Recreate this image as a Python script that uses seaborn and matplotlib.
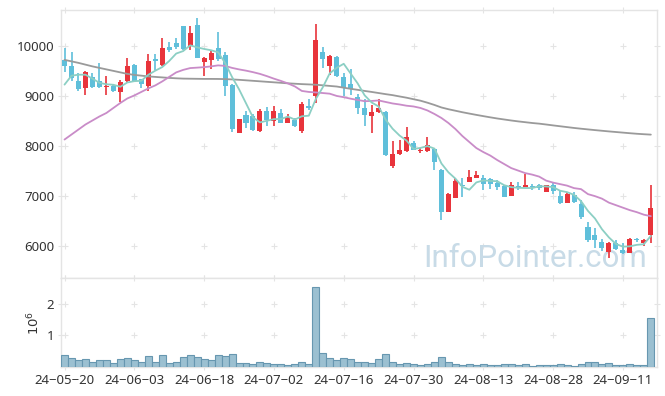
import numpy as np
import pandas as pd
import matplotlib
matplotlib.use("Agg")
import matplotlib.pyplot as plt
import seaborn as sns

# ---------------- data ----------------
tick_labels = ["24-05-20", "24-06-03", "24-06-18", "24-07-02", "24-07-16",
               "24-07-30", "24-08-13", "24-08-28", "24-09-11"]
tick_step = 10  # trading days between labelled dates

opens = [9720, 9590, 9290, 9150, 9370, 9290, 9175, 9200, 9070, 9290,
         9620, 9330, 9190, 9730, 9620, 9980, 10050, 10400, 9990, 10420,
         9680, 9720, 9960, 9820, 9220, 8270, 8620, 8590, 8300, 8700,
         8490, 8660, 8460, 8510, 8310, 8800, 8990, 9870, 9600, 9770,
         9380, 9240, 8980, 8750, 8590, 8680, 8680, 7600, 7840, 7900,
         8060, 7900, 7900, 7950, 7520, 6690, 6970, 7230, 7290, 7370,
         7370, 7350, 7270, 7200, 7010, 7210, 7190, 7210, 7220, 7090,
         7230, 7010, 6870, 7030, 6850, 6390, 6220, 6090, 5880, 6070,
         5930, 5870, 6150, 6060, 6220]
highs = [9950, 9870, 9450, 9500, 9460, 9660, 9400, 9230, 9320, 9750,
         9630, 9340, 9830, 9830, 10150, 10070, 10150, 10400, 10390, 10550,
         9770, 9920, 10270, 9870, 9230, 8530, 8690, 8630, 8740, 8780,
         8790, 8740, 8630, 8560, 8870, 8940, 10440, 9970, 9820, 9790,
         9460, 9540, 9040, 8930, 8810, 8940, 8690, 8100, 8130, 8380,
         8100, 7960, 8180, 7970, 7540, 7060, 7360, 7360, 7520, 7510,
         7420, 7370, 7330, 7220, 7290, 7290, 7440, 7250, 7250, 7230,
         7270, 7110, 7090, 7090, 6920, 6490, 6370, 6150, 6080, 6120,
         6070, 6170, 6170, 6140, 7220]
lows = [9470, 9300, 9100, 9020, 9150, 9150, 9020, 9080, 8880, 9250,
        9290, 9150, 9100, 9520, 9590, 9880, 9930, 9920, 9920, 9750,
        9390, 9530, 9700, 8990, 8290, 8270, 8360, 8310, 8290, 8410,
        8410, 8450, 8450, 8380, 8260, 8720, 8860, 9550, 9420, 9380,
        8990, 9020, 8630, 8410, 8260, 8660, 7810, 7560, 7830, 7890,
        7920, 7860, 7890, 7520, 6520, 6690, 6960, 6990, 7280, 7360,
        7120, 7150, 7130, 6980, 7000, 7120, 7180, 7130, 7120, 7080,
        7050, 6840, 6860, 6870, 6550, 6090, 5970, 5910, 5770, 5930,
        5850, 5860, 6090, 6000, 6070]
closes = [9590, 9350, 9140, 9480, 9170, 9170, 9205, 9090, 9280, 9600,
          9300, 9240, 9690, 9690, 9960, 9910, 9980, 9940, 10260, 9760,
          9750, 9850, 9740, 9200, 8350, 8530, 8450, 8330, 8700, 8510,
          8700, 8460, 8570, 8400, 8840, 8760, 10120, 9740, 9800, 9390,
          9160, 9140, 8760, 8610, 8680, 8760, 7830, 7850, 7930, 8175,
          7930, 7930, 8030, 7680, 6690, 7050, 7300, 7210, 7390, 7420,
          7250, 7250, 7180, 6990, 7230, 7180, 7230, 7180, 7160, 7220,
          7110, 6870, 7040, 6890, 6590, 6130, 6120, 5970, 6070, 5940,
          5860, 6150, 6120, 6130, 6770]
# closes of the four sessions before the window (needed for the 5-day average)
pre_closes = [8460, 9040, 9480, 9560]
volumes_m = [0.365, 0.29, 0.21, 0.23, 0.135, 0.20, 0.20, 0.105, 0.26, 0.29,
             0.20, 0.135, 0.355, 0.165, 0.385, 0.105, 0.165, 0.32, 0.385, 0.32,
             0.26, 0.20, 0.385, 0.355, 0.415, 0.105, 0.105, 0.073, 0.135, 0.105,
             0.073, 0.073, 0.042, 0.073, 0.165, 0.073, 2.54, 0.45, 0.29, 0.20,
             0.29, 0.26, 0.165, 0.135, 0.105, 0.26, 0.415, 0.135, 0.073, 0.105,
             0.073, 0.042, 0.073, 0.135, 0.32, 0.165, 0.073, 0.042, 0.073, 0.042,
             0.073, 0.042, 0.042, 0.073, 0.073, 0.042, 0.073, 0.02, 0.042, 0.042,
             0.042, 0.073, 0.042, 0.02, 0.073, 0.165, 0.165, 0.073, 0.105, 0.042,
             0.042, 0.073, 0.042, 0.042, 1.54]
ma20 = [8130, 8230, 8330, 8430, 8510, 8590, 8660, 8760, 8860, 8950,
        9010, 9080, 9150, 9210, 9290, 9380, 9470, 9520, 9556, 9565,
        9575, 9590, 9610, 9600, 9560, 9530, 9505, 9475, 9440, 9395,
        9345, 9300, 9250, 9190, 9100, 9080, 9070, 9058, 9045, 9000,
        8975, 8945, 8920, 8895, 8900, 8910, 8880, 8850, 8830, 8805,
        8790, 8760, 8710, 8640, 8560, 8460, 8340, 8200, 8080, 7960,
        7880, 7810, 7720, 7640, 7560, 7510, 7460, 7430, 7390, 7310,
        7270, 7240, 7210, 7160, 7140, 7040, 7000, 6950, 6870, 6820,
        6770, 6720, 6680, 6630, 6600]
ma120 = [9720, 9690, 9660, 9625, 9590, 9560, 9530, 9500, 9470, 9440,
         9420, 9405, 9390, 9380, 9370, 9360, 9352, 9346, 9344, 9342,
         9340, 9340, 9339, 9336, 9330, 9322, 9312, 9302, 9292, 9282,
         9272, 9262, 9252, 9244, 9236, 9230, 9224, 9212, 9200, 9188,
         9165, 9142, 9122, 9100, 9080, 9058, 9036, 9016, 8990, 8965,
         8935, 8905, 8865, 8820, 8770, 8735, 8705, 8675, 8648, 8622,
         8597, 8573, 8550, 8530, 8510, 8492, 8476, 8460, 8447, 8430,
         8412, 8395, 8378, 8361, 8346, 8332, 8318, 8305, 8292, 8280,
         8268, 8256, 8245, 8236, 8228]
price_ticks = [6000, 7000, 8000, 9000, 10000]
volume_ticks = [1, 2]

# ---------------- style ----------------
RED = "#e8343b"
BLUE = "#5fbfda"
C_MA5 = "#8ccfc4"
C_MA20 = "#c98cc8"
C_MA120 = "#9a9a9a"
VOL_FACE = "#9bc0d1"
VOL_EDGE = "#6797b0"
GRID = "#e4e4e4"
SPINE = "#e4e4e4"
TEXT = "#333333"

sns.set_theme(style="white")
plt.rcParams["font.family"] = ["Noto Sans", "DejaVu Sans"]
plt.rcParams["axes.unicode_minus"] = True

df = pd.DataFrame({"open": opens, "high": highs, "low": lows, "close": closes,
                   "volume": volumes_m, "ma20": ma20, "ma120": ma120})
df["i"] = np.arange(len(df))
all_close = pd.Series(pre_closes + closes, dtype=float)
df["ma5"] = all_close.rolling(5).mean().iloc[len(pre_closes):].to_numpy()

fig = plt.figure(figsize=(6.65, 3.96), dpi=100)
ax = fig.add_axes([0.0922, 0.2972, 0.8953, 0.6775])
axv = fig.add_axes([0.0922, 0.074, 0.8953, 0.2232], sharex=ax)

x = df["i"].to_numpy()
up = df["close"] >= df["open"]
colors = np.where(up, RED, BLUE)

# watermark
ax.text(0.9837, 0.044, "InfoPointer.com", transform=ax.transAxes, ha="right",
        va="baseline", fontsize=22.5, color="#c8dbe7", zorder=1,
        family=["Roboto", "DejaVu Sans"])

# candles
ax.vlines(x, df["low"], df["high"], colors=colors, lw=1.2, zorder=3)
body_lo = np.minimum(df["open"], df["close"])
body_h = np.maximum((df["close"] - df["open"]).abs(), 14)
ax.bar(x, body_h, bottom=body_lo, width=0.72, color=colors, linewidth=0, zorder=4)

# moving averages
sns.lineplot(data=df, x="i", y="ma120", ax=ax, color=C_MA120, lw=1.3, zorder=5)
sns.lineplot(data=df, x="i", y="ma20", ax=ax, color=C_MA20, lw=1.3, zorder=5)
sns.lineplot(data=df, x="i", y="ma5", ax=ax, color=C_MA5, lw=1.3, zorder=5)

# volume
axv.bar(x, df["volume"], width=1.0, color=VOL_FACE, edgecolor=VOL_EDGE, linewidth=0.8, zorder=3)

xticks = np.arange(0, len(tick_labels) * tick_step, tick_step)
ax.set_xlim(-0.46, 84.84)
ax.set_ylim(5360, 10715)
axv.set_ylim(0, 2.82)

for a, yt in ((ax, price_ticks), (axv, volume_ticks)):
    XX, YY = np.meshgrid(xticks, yt)
    a.plot(XX.ravel(), YY.ravel(), ls="none", marker="+", ms=4.5, mew=0.8,
           color=GRID, zorder=0)
    a.set_yticks(yt)
    a.set_xticks(xticks)
    a.set_xlabel("")
    a.set_ylabel("")
    for s in a.spines.values():
        s.set_color(SPINE)
        s.set_linewidth(1.0)
    a.tick_params(direction="inout", length=4.5, width=0.8, color=GRID,
                  top=True, right=True, left=True, bottom=True,
                  labelsize=9.5, labelcolor=TEXT, pad=3)

ax.tick_params(labelbottom=False)
ax.set_yticklabels([str(t) for t in price_ticks])
axv.set_yticklabels([str(t) for t in volume_ticks])
axv.set_xticklabels([t.replace("-", "\u2212") for t in tick_labels])
axv.set_ylabel("$10^6$", fontsize=9.5, color=TEXT, labelpad=3)

fig.savefig("out.png", dpi=100, facecolor="white")
